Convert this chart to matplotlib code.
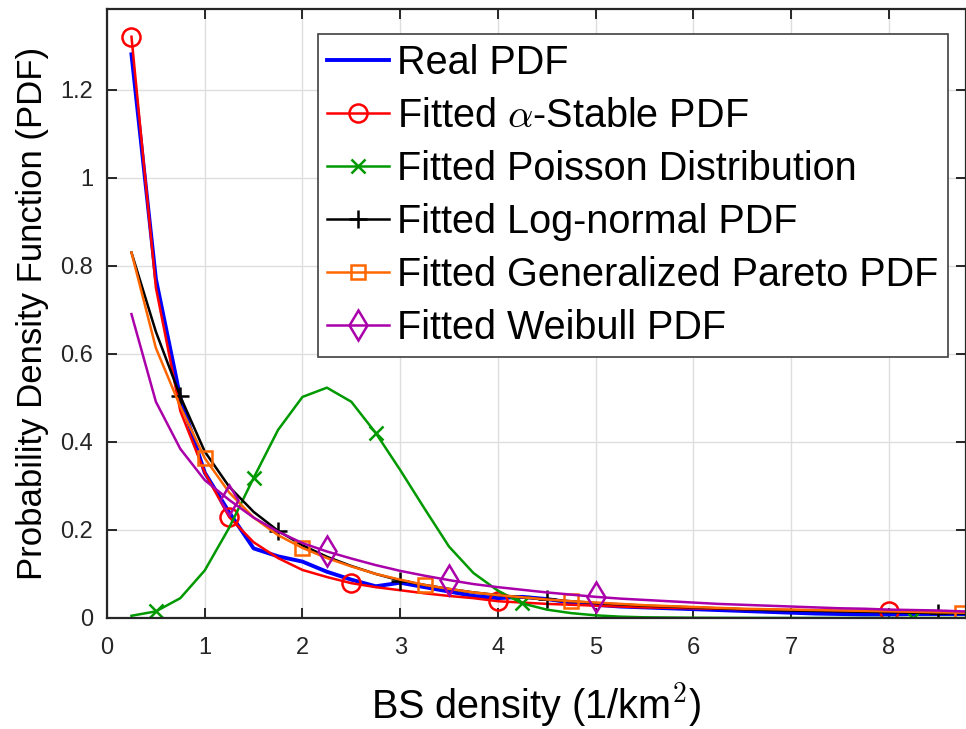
import matplotlib
matplotlib.use('Agg')
import matplotlib.pyplot as plt
from matplotlib.ticker import FuncFormatter
import numpy as np

plt.rcParams['font.family'] = ['Liberation Sans', 'DejaVu Sans']
plt.rcParams['mathtext.fontset'] = 'cm'

# BS density grid (1/km^2)
x = [0.25, 0.5, 0.75, 1.0, 1.25, 1.5, 1.75, 2.0, 2.25, 2.5, 2.75, 3.0,
     3.25, 3.5, 3.75, 4.0, 4.25, 4.5, 4.75, 5.0, 5.25, 5.5, 5.75, 6.0,
     6.25, 6.5, 6.75, 7.0, 7.25, 7.5, 7.75, 8.0, 8.25, 8.5, 8.75, 9.0]

real_pdf = [1.28, 0.77, 0.50, 0.33, 0.24, 0.158, 0.140, 0.128, 0.105, 0.087, 0.072, 0.080,
            0.070, 0.060, 0.050, 0.045, 0.048, 0.043, 0.035, 0.030, 0.026, 0.024, 0.022, 0.020,
            0.018, 0.016, 0.014, 0.012, 0.010, 0.009, 0.008, 0.008, 0.009, 0.009, 0.009, 0.009]
stable_pdf = [1.32, 0.75, 0.47, 0.33, 0.229, 0.172, 0.136, 0.109, 0.093, 0.079, 0.070, 0.063,
              0.056, 0.050, 0.045, 0.038, 0.035, 0.032, 0.030, 0.028, 0.026, 0.024, 0.023, 0.022,
              0.021, 0.020, 0.019, 0.018, 0.017, 0.016, 0.016, 0.015, 0.014, 0.014, 0.013, 0.013]
poisson_pdf = [0.005, 0.015, 0.045, 0.108, 0.205, 0.318, 0.427, 0.502, 0.523, 0.491, 0.420, 0.336,
               0.248, 0.162, 0.102, 0.062, 0.033, 0.019, 0.011, 0.006, 0.003, 0.0015, 0.001, 0.0005,
               0.0003, 0.0002, 0.0001, 0.0, 0.0, 0.0, 0.0, 0.0, 0.0, 0.0, 0.0, 0.0]
lognormal_pdf = [0.83, 0.65, 0.503, 0.378, 0.298, 0.241, 0.198, 0.165, 0.139, 0.118, 0.100, 0.085,
                 0.075, 0.066, 0.058, 0.052, 0.047, 0.042, 0.038, 0.034, 0.031, 0.028, 0.026, 0.024,
                 0.022, 0.020, 0.018, 0.017, 0.016, 0.015, 0.014, 0.013, 0.012, 0.011, 0.010, 0.0095]
pareto_pdf = [0.83, 0.613, 0.48, 0.363, 0.285, 0.228, 0.188, 0.159, 0.136, 0.117, 0.100, 0.087,
              0.075, 0.066, 0.058, 0.052, 0.047, 0.042, 0.038, 0.035, 0.032, 0.029, 0.027, 0.025,
              0.023, 0.021, 0.020, 0.019, 0.018, 0.017, 0.016, 0.015, 0.014, 0.013, 0.012, 0.012]
weibull_pdf = [0.69, 0.491, 0.384, 0.313, 0.268, 0.228, 0.196, 0.170, 0.151, 0.135, 0.120, 0.107,
               0.096, 0.086, 0.077, 0.070, 0.064, 0.058, 0.053, 0.048, 0.044, 0.041, 0.038, 0.035,
               0.032, 0.030, 0.028, 0.026, 0.024, 0.022, 0.021, 0.019, 0.018, 0.017, 0.015, 0.014]

labels = ['Real PDF', r'Fitted $\alpha$-Stable PDF', 'Fitted Poisson Distribution',
          'Fitted Log-normal PDF', 'Fitted Generalized Pareto PDF', 'Fitted Weibull PDF']

fig = plt.figure(figsize=(9.66, 7.29), dpi=100)
ax = fig.add_axes([0.1108, 0.1523, 0.8892, 0.8354])

ax.plot(x, real_pdf, color='#0000FF', lw=2.8, label=labels[0])
ax.plot(x, stable_pdf, color='#FF0000', lw=1.8, marker='o', ms=13, mfc='none', mew=1.8,
        markevery=[0, 4, 9, 15, 31], label=labels[1])
ax.plot(x, poisson_pdf, color='#009900', lw=1.8, marker='x', ms=10, mew=1.8,
        markevery=[1, 5, 10, 16, 32], label=labels[2])
ax.plot(x, lognormal_pdf, color='black', lw=1.8, marker='+', ms=13, mew=1.8,
        markevery=[2, 6, 11, 17, 33], label=labels[3])
ax.plot(x, pareto_pdf, color='#FF6600', lw=1.8, marker='s', ms=10, mfc='none', mew=1.8,
        markevery=[3, 7, 12, 18, 34], label=labels[4])
ax.plot(x, weibull_pdf, color='#AA00AA', lw=1.8, marker='d', ms=15, mfc='none', mew=1.8,
        markevery=[4, 8, 13, 19, 35], label=labels[5])

ax.set_xlim(0, 8.79)
ax.set_ylim(0, 1.383)
ax.set_xticks(range(0, 9))
ax.set_yticks([0, 0.2, 0.4, 0.6, 0.8, 1.0, 1.2])
ax.yaxis.set_major_formatter(FuncFormatter(lambda v, p: ('%g' % round(v, 2))))
ax.tick_params(direction='in', length=7, width=1.4, labelsize=17, top=True, right=True,
               colors='#262626')
ax.tick_params(axis='x', pad=14)
ax.tick_params(axis='y', pad=10)
ax.grid(True, color='#dedede', lw=1)
ax.set_axisbelow(True)
for s in ax.spines.values():
    s.set_linewidth(1.6)
    s.set_color('#262626')

ax.set_xlabel('BS density (1/km$^2$)', fontsize=28.5, labelpad=16)
ax.set_ylabel('Probability Density Function (PDF)', fontsize=25, labelpad=8)

leg = ax.legend(loc='upper right', bbox_to_anchor=(0.979, 0.959), borderaxespad=0,
                fontsize=28.5, handlelength=1.55, handletextpad=0.2, labelspacing=0.38,
                borderpad=0.25, fancybox=False, framealpha=1)
leg.get_frame().set_edgecolor('#404040')
leg.get_frame().set_linewidth(1.2)

fig.savefig('out.png', dpi=100)
